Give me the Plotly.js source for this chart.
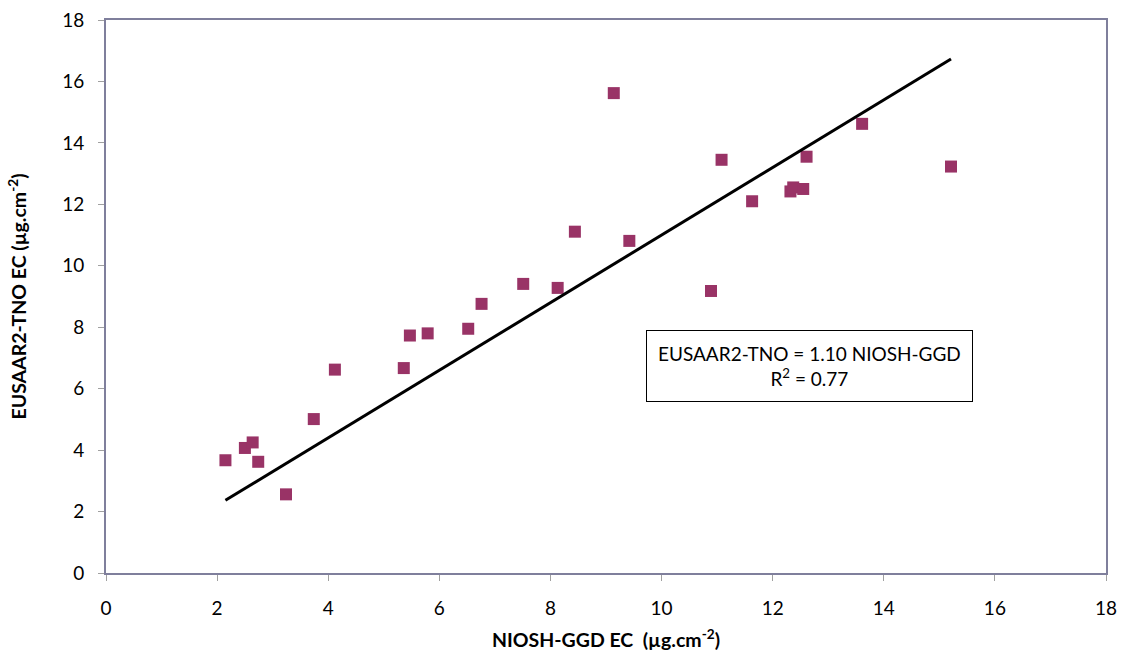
<!DOCTYPE html>
<html>
<head>
<meta charset="utf-8">
<script src="https://cdn.plot.ly/plotly-3.0.1.min.js"></script>
<style>html,body{margin:0;padding:0;background:#fff;}#chart{width:1134px;height:653px;}</style>
</head>
<body>
<div id="chart"></div>
<script>
var nioshEC = [2.15, 2.50, 2.64, 2.74, 3.24, 3.74, 4.12, 5.36, 5.47, 5.79, 6.52, 6.76,
               7.51, 8.13, 8.44, 9.14, 9.42, 10.89, 11.08, 11.63, 12.32, 12.37, 12.55, 12.61, 13.61, 15.21];
var eusaarEC = [3.67, 4.07, 4.25, 3.62, 2.56, 5.01, 6.62, 6.67, 7.73, 7.80, 7.95, 8.76,
                9.41, 9.28, 11.11, 15.62, 10.81, 9.18, 13.45, 12.10, 12.42, 12.55, 12.50, 13.55, 14.62, 13.23];
var fitSlope = 1.10;
var rSquared = 0.77;
var xTicks = [0, 2, 4, 6, 8, 10, 12, 14, 16, 18];
var yTicks = [0, 2, 4, 6, 8, 10, 12, 14, 16, 18];

var xMin = Math.min.apply(null, nioshEC), xMax = Math.max.apply(null, nioshEC);
var fitX = [xMin, xMax];
var fitY = fitX.map(function(v){ return fitSlope * v; });

var axisColor = '#7f7f9c';
var font = 'Lato, "Open Sans", sans-serif';

var traces = [
  {x: nioshEC, y: eusaarEC, type: 'scatter', mode: 'markers',
   marker: {symbol: 'square', size: 12, color: '#993366', line: {width: 0}}, hoverinfo: 'x+y'},
  {x: fitX, y: fitY, type: 'scatter', mode: 'lines', line: {color: '#000000', width: 3}}
];

var layout = {
  width: 1134, height: 653,
  margin: {l: 106, r: 28, t: 20, b: 79.5},
  paper_bgcolor: '#ffffff', plot_bgcolor: '#ffffff',
  showlegend: false,
  font: {family: font, color: '#000', size: 19},
  xaxis: {
    range: [0, 18], tickvals: xTicks, ticktext: xTicks.map(String),
    showgrid: false, zeroline: false,
    showline: true, linecolor: axisColor, linewidth: 2, mirror: true,
    ticks: 'outside', ticklen: 6, tickcolor: '#a0a0a0', tickwidth: 1,
    ticklabelstandoff: 11,
    tickfont: {family: font, size: 19, color: '#000'},
    title: {text: 'NIOSH-GGD EC  (µg.cm<sup>-2</sup>)', font: {family: font, size: 19.5, color: '#000', weight: 'bold'}, standoff: 16}
  },
  yaxis: {
    range: [0, 18], tickvals: yTicks, ticktext: yTicks.map(String),
    showgrid: false, zeroline: false,
    showline: true, linecolor: axisColor, linewidth: 2, mirror: true,
    ticks: 'outside', ticklen: 6, tickcolor: '#a0a0a0', tickwidth: 1,
    ticklabelstandoff: 10,
    tickfont: {family: font, size: 19, color: '#000'},
    title: {text: 'EUSAAR2-TNO EC (µg.cm<sup>-2</sup>)', font: {family: font, size: 19.5, color: '#000', weight: 'bold'}, standoff: 30}
  },
  annotations: [{
    x: 12.67, y: 6.75, xref: 'x', yref: 'y',
    text: 'EUSAAR2-TNO = ' + fitSlope.toFixed(2) + ' NIOSH-GGD<br>R<sup>2</sup> = ' + rSquared.toFixed(2),
    showarrow: false, align: 'center',
    font: {family: font, size: 19, color: '#000'},
    bordercolor: '#000', borderwidth: 1, borderpad: 11, bgcolor: '#fff'
  }]
};

Plotly.newPlot('chart', traces, layout, {displayModeBar: false, staticPlot: true});
</script>
</body>
</html>
